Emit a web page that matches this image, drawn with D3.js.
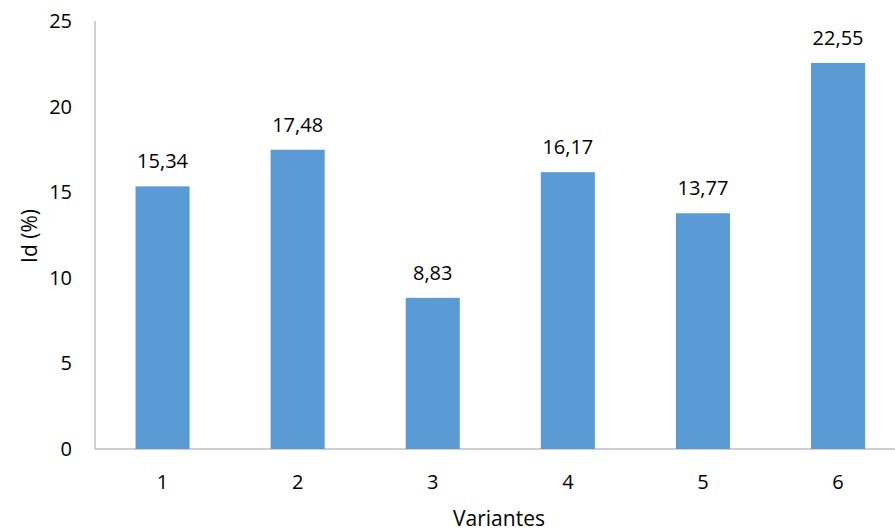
<!DOCTYPE html>
<html>
<head>
<meta charset="utf-8">
<script src="https://cdn.jsdelivr.net/npm/d3@7"></script>
<style>
  body { margin: 0; background: #fff; }
  svg text { font-family: "Open Sans", "Noto Sans", sans-serif; fill: #000; }
</style>
</head>
<body>
<svg id="chart" width="895" height="531"></svg>
<script>
var variantes = ["1", "2", "3", "4", "5", "6"];
var idValues = [15.34, 17.48, 8.83, 16.17, 13.77, 22.55];
var yTicks = [0, 5, 10, 15, 20, 25];

var svg = d3.select("#chart");
var plotLeft = 95, plotTop = 21, plotBottom = 449;

var x = d3.scaleBand().domain(variantes).range([plotLeft, plotLeft + 6 * 135.1]).padding(0);
var y = d3.scaleLinear().domain([0, 25]).range([plotBottom, plotTop]);
var barW = x.bandwidth() * 0.4;

// axes lines
svg.append("line")
    .attr("x1", plotLeft).attr("x2", plotLeft)
    .attr("y1", y(25)).attr("y2", y(0))
    .attr("stroke", "#bfbfbf").attr("stroke-width", 1.5);
svg.append("line")
    .attr("x1", plotLeft).attr("x2", 895)
    .attr("y1", y(0)).attr("y2", y(0))
    .attr("stroke", "#bfbfbf").attr("stroke-width", 1.5);

// bars
svg.selectAll("rect.bar")
    .data(idValues)
    .enter().append("rect")
    .attr("class", "bar")
    .attr("x", function(d, i) { return x(variantes[i]) + x.bandwidth() / 2 - barW / 2; })
    .attr("y", function(d) { return y(d); })
    .attr("width", barW)
    .attr("height", function(d) { return y(0) - y(d); })
    .attr("fill", "#5b9bd5");

// data labels
svg.selectAll("text.lbl")
    .data(idValues)
    .enter().append("text")
    .attr("class", "lbl")
    .attr("x", function(d, i) { return x(variantes[i]) + x.bandwidth() / 2; })
    .attr("y", function(d) { return y(d) - 18; })
    .attr("text-anchor", "middle")
    .style("font-size", "20px")
    .text(function(d) { return d.toFixed(2).replace(".", ","); });

// y tick labels
svg.selectAll("text.yt")
    .data(yTicks)
    .enter().append("text")
    .attr("class", "yt")
    .attr("x", 72)
    .attr("y", function(d) { return y(d); })
    .attr("dy", "0.35em")
    .attr("text-anchor", "end")
    .style("font-size", "20px")
    .text(function(d) { return d; });

// x tick labels
svg.selectAll("text.xt")
    .data(variantes)
    .enter().append("text")
    .attr("class", "xt")
    .attr("x", function(d) { return x(d) + x.bandwidth() / 2; })
    .attr("y", 482)
    .attr("dy", "0.35em")
    .attr("text-anchor", "middle")
    .style("font-size", "20px")
    .text(function(d) { return d; });

// axis titles
svg.append("text")
    .attr("x", 499).attr("y", 519)
    .attr("dy", "0.35em")
    .attr("text-anchor", "middle")
    .style("font-size", "21px")
    .text("Variantes");

svg.append("text")
    .attr("transform", "translate(30,236) rotate(-90)")
    .attr("dy", "0.35em")
    .attr("text-anchor", "middle")
    .style("font-size", "21px")
    .text("Id (%)");
</script>
</body>
</html>
